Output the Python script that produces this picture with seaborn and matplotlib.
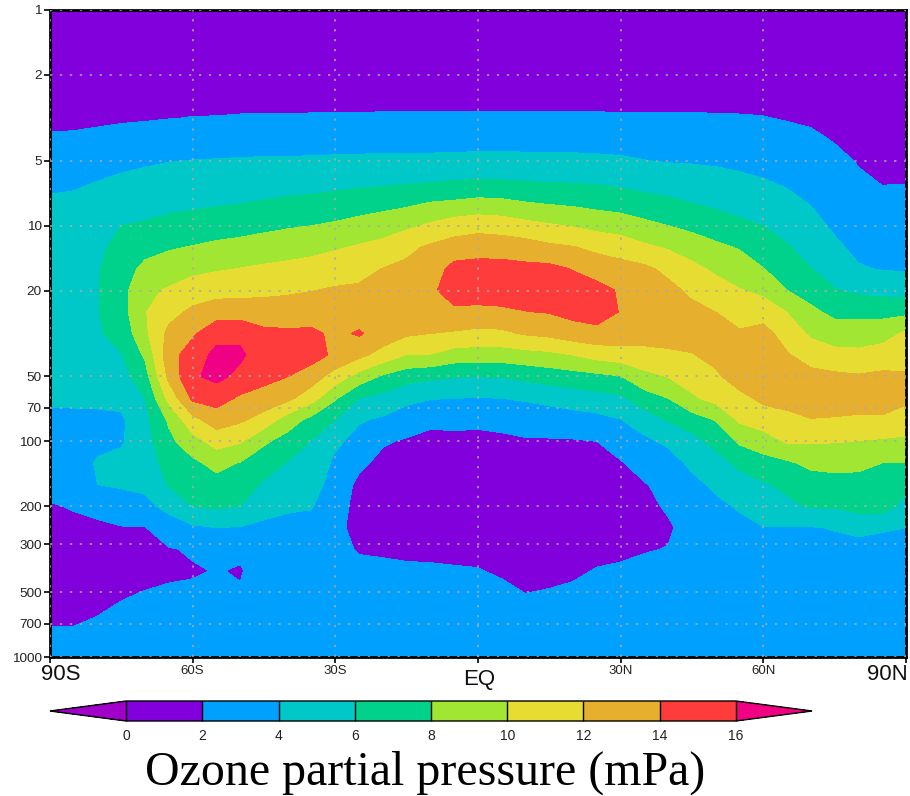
import numpy as np
import seaborn as sns
import matplotlib
matplotlib.use('Agg')
import matplotlib.pyplot as plt
from matplotlib.colors import BoundaryNorm, ListedColormap

# axes values
lat_ticks = [-90, -60, -30, 0, 30, 60, 90]
lat_labels = ['', '60S', '30S', '', '30N', '60N', '']
pres_ticks = [1, 2, 5, 10, 20, 50, 70, 100, 200, 300, 500, 700, 1000]

# contour bands
levels = [0, 2, 4, 6, 8, 10, 12, 14, 16]
band_colors = ['#8200DC', '#00A0FF', '#00C8C8', '#00D28C', '#A0E632', '#E6DC32', '#E6AF2D', '#FF3C3C']
under_color = '#A000C8'
over_color = '#F00082'

# ozone (mPa), one list per latitude 90S..90N every 5 deg,
# each list runs from 1 hPa down to 1000 hPa in steps of 0.1 decade
ozone_by_lat = [
    [.6,.8,1,1.2,1.45,1.55,2.23,2.97,3.7,4.25,4.5,4.7,4.8,4.9,4.9,4.8,4.6,4.4,4.2,3.7,3.4,3.0,2.5,1.9,1.6,1.4,1.3,1.3,1.6,2.3,2.7],
    [.6,.8,1,1.2,1.45,1.6,2.27,3.0,3.75,4.4,4.8,5.0,5.1,5.2,5.2,5.1,4.9,4.6,4.25,3.7,3.3,3.0,2.7,2.1,1.7,1.5,1.4,1.4,1.6,2.3,2.7],
    [.6,.8,1,1.25,1.5,1.7,2.4,3.2,4.05,4.6,5.2,5.6,5.85,5.9,5.9,5.8,5.4,4.9,4.3,3.7,3.5,4.2,4.0,2.5,1.7,1.5,1.4,1.5,1.95,2.4,2.8],
    [.6,.8,1,1.3,1.55,1.8,2.55,3.5,4.4,5.1,6.0,6.6,7.1,7.3,7.2,6.6,5.9,5.2,4.5,3.7,3.8,4.5,4.2,3.2,1.9,1.6,1.5,1.8,2.3,2.6,2.9],
    [.6,.8,1,1.3,1.6,1.85,2.75,3.75,4.6,5.35,6.2,7.3,8.5,9.6,9.9,9.6,8.3,7.2,6.0,5.5,5.2,4.9,4.4,3.5,1.95,1.6,1.5,2.05,2.5,2.8,3.0],
    [.6,.8,1,1.35,1.65,1.95,2.9,3.95,4.8,5.55,6.55,7.8,9.0,10.2,11.3,12.5,13.2,12.5,10.6,8.3,7.5,6.8,6.15,4.6,3.0,1.9,1.6,2.3,2.7,2.9,3.1],
    [.6,.8,1,1.4,1.6,2.03,3.0,4.05,4.9,5.7,6.8,8.1,9.5,10.95,12.4,13.7,15.0,15.75,14.4,11.4,9.2,7.6,6.8,6.0,3.7,2.15,1.88,2.2,2.6,2.9,3.1],
    [.6,.8,1,1.4,1.5,2.05,3.1,4.1,5.0,5.85,7.1,8.4,9.8,11.3,13.0,15.4,16.5,16.5,14.8,13.0,10.8,8.6,7.3,6.3,4.0,2.3,2.06,2.4,2.7,3.0,3.2],
    [.6,.8,1.05,1.2,1.3,2.15,3.2,4.15,5.1,6.0,7.3,8.6,10.05,11.4,13.0,15.6,16.3,15.5,13.7,12.3,10.2,7.9,6.9,6.0,3.9,2.25,1.9,2.1,2.7,3.0,3.2],
    [.6,.8,1.05,1.2,1.3,2.2,3.2,4.2,5.2,6.2,7.55,8.9,10.3,11.5,13.0,14.4,15.0,14.6,13.2,11.2,8.3,6.9,5.75,4.7,3.6,2.5,2.6,2.5,2.8,3.0,3.2],
    [.6,.8,1.0,1.1,1.2,2.2,3.2,4.2,5.3,6.4,7.8,9.15,10.5,11.7,13.0,14.3,14.9,14.0,12.5,9.0,7.2,5.9,5.1,4.25,3.5,2.9,2.6,2.7,2.9,3.1,3.3],
    [.6,.8,1.0,1.1,1.15,2.25,3.25,4.25,5.4,6.5,8.0,9.4,10.75,11.95,12.95,14.4,14.8,13.0,10.8,7.4,5.9,5.4,4.9,4.1,3.5,3.1,2.9,2.9,3.0,3.2,3.4],
    [.6,.8,1.0,1.05,1.1,2.3,3.25,4.3,5.5,6.75,8.3,9.8,11.1,12.2,12.9,13.6,13.6,11.1,8.2,6.0,4.4,3.6,3.1,2.8,2.4,2.35,2.4,2.6,2.8,3.1,3.3],
    [.6,.8,1.0,1.05,1.1,2.3,3.25,4.35,5.6,7.1,8.7,10.2,11.4,12.3,13.0,14.2,12.5,9.2,6.0,4.2,3.3,2.4,1.6,1.4,1.5,1.9,2.3,2.5,2.7,3.0,3.2],
    [.6,.8,1.0,1.05,1.1,2.35,3.3,4.35,5.7,7.4,9.1,10.6,12.05,12.6,13.1,13.2,11.2,7.7,5.4,3.7,2.2,1.5,1.3,1.3,1.4,1.8,2.3,2.5,2.7,3.0,3.2],
    [.6,.8,1.0,1.05,1.1,2.35,3.3,4.4,5.85,7.7,9.6,11.55,12.4,12.9,13.4,12.3,9.9,6.8,4.5,3.0,1.8,1.3,1.2,1.2,1.3,1.6,2.3,2.5,2.7,3.0,3.2],
    [.6,.8,1.0,1.05,1.1,2.35,3.3,4.4,6.0,8.2,10.3,12.3,13.0,13.5,13.4,12.0,9.9,6.4,4.1,2.4,1.5,1.2,1.1,1.1,1.2,1.5,2.3,2.5,2.7,3.0,3.2],
    [.6,.8,1.0,1.05,1.1,2.35,3.3,4.45,6.15,8.4,11.0,12.9,14.6,15.2,13.5,11.8,9.1,6.1,4.0,2.6,1.4,1.1,1.0,1.0,1.1,1.4,2.2,2.5,2.7,3.0,3.2],
    [.6,.8,1.0,1.05,1.1,2.35,3.35,4.5,6.3,8.7,11.3,13.2,14.7,15.0,13.5,11.5,9.0,6.0,3.95,2.4,1.5,1.1,1.0,1.0,1.1,1.4,2.1,2.5,2.7,3.0,3.2],
    [.6,.8,1.0,1.05,1.1,2.35,3.35,4.5,6.2,8.6,11.1,13.1,14.7,15.1,13.6,11.6,9.0,6.1,4.0,2.6,1.6,1.1,1.0,1.0,1.0,1.1,1.7,2.5,2.7,3.0,3.2],
    [.6,.8,1.0,1.05,1.1,2.35,3.35,4.45,6.1,8.2,10.6,12.9,14.5,15.0,13.95,12.2,9.25,6.5,4.2,2.9,1.8,1.2,1.0,.9,.9,1.0,1.2,1.95,2.6,2.9,3.2],
    [.6,.8,1.0,1.05,1.1,2.35,3.35,4.45,6.0,7.95,10.2,12.4,14.5,15.1,14.1,12.5,9.5,6.9,4.5,3.1,1.8,1.2,1.0,.9,.9,1.0,1.3,2.15,2.6,2.9,3.2],
    [.6,.8,1.0,1.05,1.1,2.35,3.35,4.4,5.95,7.75,9.85,12.1,13.9,14.9,14.6,13.1,10.0,7.2,4.9,3.2,1.85,1.3,1.1,1.0,1.1,1.3,1.7,2.3,2.6,2.9,3.2],
    [.6,.8,1.0,1.05,1.1,2.35,3.3,4.35,5.85,7.45,9.4,11.5,13.2,14.6,14.9,13.4,10.7,7.5,5.3,3.4,2.0,1.4,1.2,1.1,1.2,1.5,2.1,2.4,2.7,2.9,3.2],
    [.6,.8,1.0,1.05,1.1,2.3,3.25,4.25,5.6,7.2,9.1,11.1,12.7,13.8,13.9,13.2,11.1,7.9,5.6,3.95,3.0,1.85,1.4,1.3,1.4,1.7,2.2,2.5,2.7,3.0,3.2],
    [.6,.8,1.0,1.05,1.1,2.3,3.15,4.05,5.3,6.8,8.5,10.35,12.4,13.0,13.3,12.8,11.4,9.4,7.1,5.0,3.6,2.8,1.9,1.6,1.5,1.9,2.4,2.6,2.8,3.0,3.2],
    [.6,.8,1.0,1.1,1.15,2.25,3.1,3.9,5.1,6.5,8.0,9.8,11.5,12.55,13.2,12.9,11.6,10.05,8.0,6.15,4.35,3.2,2.5,2.2,1.8,2.05,2.4,2.6,2.8,3.0,3.2],
    [.6,.8,1.0,1.1,1.15,2.25,3.0,3.85,4.9,6.05,7.5,9.05,10.5,11.6,12.5,12.8,11.9,10.9,9.7,7.1,5.3,4.4,3.5,3.0,2.6,2.5,2.6,2.7,2.9,3.1,3.3],
    [.6,.8,1.0,1.2,1.3,2.2,2.95,3.75,4.7,5.7,6.95,8.4,9.65,10.8,12.0,12.6,12.5,11.7,10.65,8.1,6.6,5.2,4.35,3.6,3.1,2.8,2.8,2.9,3.0,3.2,3.4],
    [.6,.8,1,1.2,1.3,2.15,2.85,3.6,4.4,5.35,6.4,7.85,9.0,10.1,11.2,12.2,13.0,12.85,11.5,10.3,8.3,6.45,5.15,4.2,3.5,3.1,3.0,3.0,3.1,3.3,3.5],
    [.6,.8,1,1.3,1.5,2.05,2.7,3.4,4.15,4.95,6.0,7.0,8.05,9.55,11.0,12.8,13.4,13.2,12.4,11.1,9.0,7.3,5.8,4.9,3.95,3.5,3.2,3.2,3.3,3.4,3.6],
    [.6,.8,1,1.3,1.6,1.9,2.5,3.15,3.8,4.5,5.3,6.15,7.1,8.0,9.95,11.0,12.2,13.3,12.9,11.3,10.2,7.7,6.4,5.6,3.95,3.6,3.3,3.2,3.3,3.4,3.6],
    [.6,.8,.95,1.25,1.5,1.75,2.3,2.85,3.4,3.95,4.5,5.3,6.05,7.2,8.4,9.7,11.0,12.7,13.4,11.9,10.2,8.5,7.0,6.2,3.9,3.7,3.4,3.3,3.3,3.4,3.6],
    [.6,.75,.9,1.15,1.4,1.6,1.9,2.4,2.85,3.3,3.75,4.3,5.2,6.1,7.5,9.0,10.6,12.4,13.2,11.8,10.1,8.6,7.3,6.2,4.1,3.5,3.4,3.3,3.3,3.4,3.6],
    [.6,.75,.9,1.1,1.3,1.5,1.7,1.9,2.25,2.7,3.15,3.6,4.15,5.65,7.45,8.95,10.5,12.2,13.2,11.6,9.95,8.45,7.35,6.9,4.3,3.6,3.3,3.2,3.2,3.3,3.5],
    [.6,.75,.9,1.05,1.25,1.45,1.6,1.8,1.95,2.35,2.9,3.4,3.9,5.4,7.4,9.2,10.9,12.4,13.4,11.6,9.75,8.0,7.2,7.0,4.15,3.5,3.2,3.1,3.1,3.2,3.4],
    [.6,.75,.9,1.05,1.25,1.45,1.6,1.8,1.97,2.35,2.85,3.3,3.8,5.2,7.5,10.3,11.1,12.3,12.5,10.9,9.7,8.0,6.5,5.3,4.0,3.3,3.0,2.9,2.9,3.0,3.2],
]

ozone = np.array(ozone_by_lat).T

sns.set_theme(style='white')
plt.rcParams['font.family'] = ['Liberation Sans', 'DejaVu Sans']

cmap = ListedColormap(sns.color_palette(band_colors))
cmap.set_under(under_color)
cmap.set_over(over_color)
norm = BoundaryNorm(levels, cmap.N)

fig = plt.figure(figsize=(9.10, 7.96), dpi=100)
ax = fig.add_axes([50 / 910, 1 - 657 / 796, 856 / 910, 647 / 796])
cax = fig.add_axes([50 / 910, 1 - 721 / 796, 762 / 910, 20 / 796])

sns.heatmap(ozone, ax=ax, cmap=cmap, norm=norm, xticklabels=False, yticklabels=False, cbar_ax=cax,
            cbar_kws={'orientation': 'horizontal', 'extend': 'both', 'extendfrac': 0.125,
                      'ticks': levels, 'drawedges': True})

# smooth bands over the heatmap cells, cell centres are at index + 0.5
rows = np.arange(ozone.shape[0]) + 0.5
cols = np.arange(ozone.shape[1]) + 0.5
ax.contourf(cols, rows, ozone, levels=levels, cmap=cmap, norm=norm, extend='both', zorder=1)
ax.set_xlim(cols[0], cols[-1])
ax.set_ylim(rows[-1], rows[0])

x_pos = (np.array(lat_ticks) + 90) / 5 + 0.5
y_pos = 10 * np.log10(pres_ticks) + 0.5
ax.set_xticks(x_pos)
ax.set_xticklabels(lat_labels, fontsize=9.5)
ax.set_yticks(y_pos)
ax.set_yticklabels(pres_ticks, fontsize=9.7, rotation=0)
ax.tick_params(axis='both', length=4, width=1.2, color='black', left=True, bottom=True, pad=2, labelcolor='#222222')

ax.set_axisbelow(False)
ax.grid(True, color='#aaaaaa', linewidth=1.1, linestyle=(0, (1.5, 5)))
for spine in ax.spines.values():
    spine.set_visible(True)
    spine.set_color('black')
    spine.set_linewidth(2)

# larger labels for the ends and the equator
for txt, lat, dx, dy in [('90S', -90, 11, -18), ('EQ', 0, 1, -23), ('90N', 90, -19, -18)]:
    ax.annotate(txt, xy=((lat + 90) / 5 + 0.5, 0), xycoords=('data', 'axes fraction'), xytext=(dx, dy),
                textcoords='offset pixels', ha='center', va='center', fontsize=16, color='#111111')

cbar = ax.collections[0].colorbar
cbar.outline.set_linewidth(1)
cbar.outline.set_edgecolor('black')
cbar.dividers.set_linewidth(1)
cbar.dividers.set_color('black')
cbar.ax.minorticks_off()
cbar.ax.tick_params(length=0, pad=6, labelsize=10, labelcolor='#222222')

fig.text(425.5 / 910, 1 - 785 / 796, 'Ozone partial pressure (mPa)', ha='center', va='baseline',
         fontsize=34.5, family='Liberation Serif', color='black')

fig.savefig('out.png', dpi=100)
